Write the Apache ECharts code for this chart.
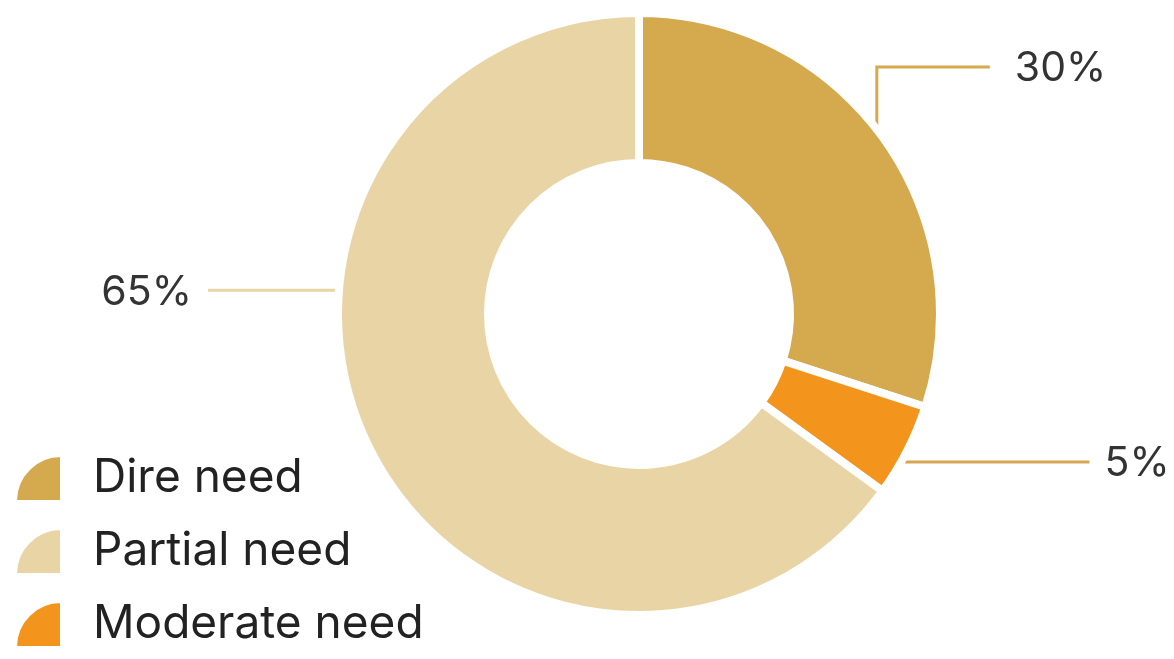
<!DOCTYPE html>
<html>
<head>
<meta charset="utf-8">
<script src="https://cdn.jsdelivr.net/npm/echarts@6/dist/echarts.min.js"></script>
<style>
html,body{margin:0;padding:0;background:#fff;}
#chart{width:1174px;height:659px;}
</style>
</head>
<body>
<div id="chart"></div>
<script>
// Data
const categories = ['Dire need', 'Moderate need', 'Partial need'];
const values = [30, 5, 65];
const legendOrder = ['Dire need', 'Partial need', 'Moderate need'];
const colors = ['#D5A94E', '#F3951C', '#E9D4A5'];
const lineColors = ['#D5A94E', '#D9A552', '#E9D4A5'];

// Layout config for label lines (angle where line leaves ring, and path shape)
const CX = 639, CY = 314, R = 297;
const labelGeom = [
  { deg: 36.8, up: 69, run: 113, side: 'right', gap: 25 },
  { deg: -29.9, up: 0, run: 193, side: 'right', gap: 15 },
  { deg: 175.4, up: 0, run: 135, side: 'left', gap: 16 }
];

const chart = echarts.init(document.getElementById('chart'), null, { renderer: 'canvas' });

const option = {
  backgroundColor: '#ffffff',
  animation: false,
  legend: {
    orient: 'vertical',
    left: 15,
    top: 455,
    padding: 0,
    itemWidth: 45,
    itemHeight: 45,
    itemGap: 26,
    data: legendOrder,
    icon: 'path://M100,100 L100,0 A100,100 0 0 0 0,100 Z',
    textStyle: {
      fontFamily: 'Inter',
      fontSize: 46,
      color: '#222222',
      padding: [6, 0, 0, 27]
    }
  },
  series: [{
    type: 'pie',
    center: [CX, CY],
    radius: [151, 301],
    startAngle: 90,
    clockwise: true,
    avoidLabelOverlap: false,
    itemStyle: { borderColor: '#ffffff', borderWidth: 8 },
    label: {
      show: true,
      formatter: '{d}%',
      fontFamily: 'Inter',
      fontSize: 41,
      color: '#333333'
    },
    labelLine: { show: true, lineStyle: { width: 3 } },
    labelLayout: function (params) {
      const g = labelGeom[params.dataIndex];
      const a = g.deg * Math.PI / 180;
      const sx = CX + R * Math.cos(a);
      const sy = CY - R * Math.sin(a);
      const my = sy - g.up;
      const ex = g.side === 'right' ? sx + g.run : sx - g.run;
      const pts = g.up ? [[sx, sy], [sx, my], [ex, my]] : [[sx, sy], [(sx + ex) / 2, sy], [ex, sy]];
      return {
        x: g.side === 'right' ? ex + g.gap : ex - g.gap,
        y: my + 2,
        align: g.side === 'right' ? 'left' : 'right',
        verticalAlign: 'middle',
        labelLinePoints: pts
      };
    },
    data: categories.map((name, i) => ({
      name: name,
      value: values[i],
      itemStyle: { color: colors[i] },
      labelLine: { lineStyle: { color: lineColors[i] } }
    }))
  }]
};
chart.setOption(option);
</script>
</body>
</html>
